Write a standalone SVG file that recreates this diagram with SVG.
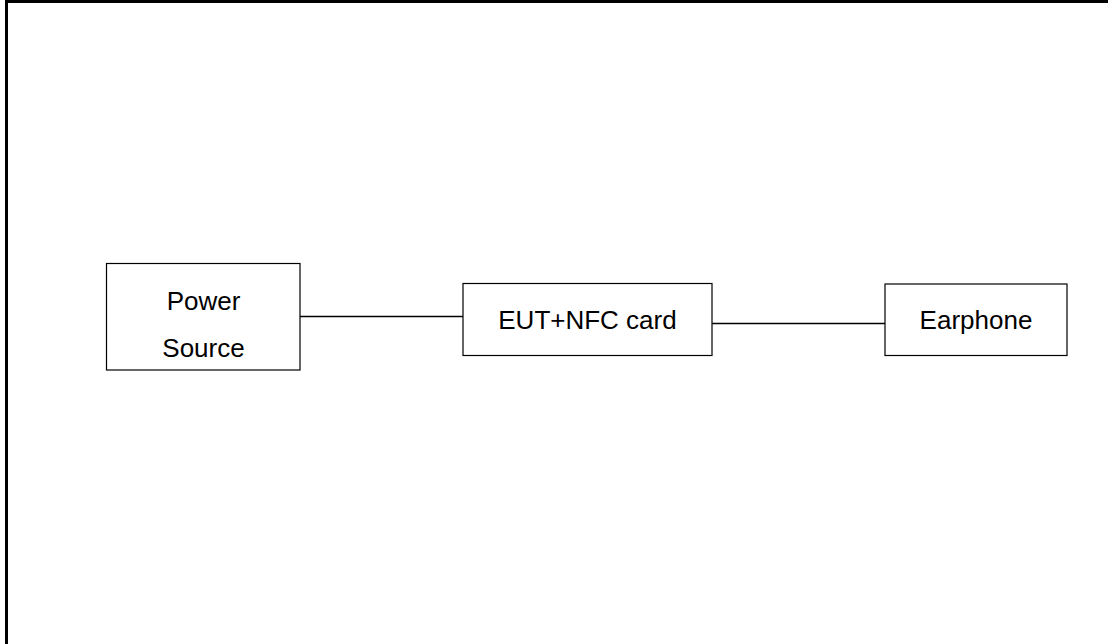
<svg xmlns="http://www.w3.org/2000/svg" width="1108" height="644" viewBox="0 0 1108 644">
<style>
.box{fill:#fff;stroke:#000;stroke-width:1.2}
.lbl{font-family:"Liberation Sans",Arial,sans-serif;font-size:26px;fill:#000;text-anchor:middle}
.wire{stroke:#000;stroke-width:1.6;fill:none}
.frame{stroke:#000;stroke-width:3;fill:none}
</style>
<rect width="1108" height="644" fill="#fff"/>
<path class="frame" d="M6.5 644 V1.5 H1108"/>
<g id="connectors">
<line class="wire" x1="300" y1="316.5" x2="463" y2="316.5"/>
<line class="wire" x1="712" y1="323.5" x2="885" y2="323.5"/>
</g>
<g id="power-source">
<rect class="box" x="106.5" y="263.5" width="193.5" height="106.5"/>
<text class="lbl" x="203.5" y="309.5">Power</text>
<text class="lbl" x="203.5" y="356.5">Source</text>
</g>
<g id="eut">
<rect class="box" x="463" y="283.5" width="249" height="72"/>
<text class="lbl" x="587.5" y="329">EUT+NFC card</text>
</g>
<g id="earphone">
<rect class="box" x="885" y="284" width="182" height="71.5"/>
<text class="lbl" x="976" y="329">Earphone</text>
</g>
</svg>
